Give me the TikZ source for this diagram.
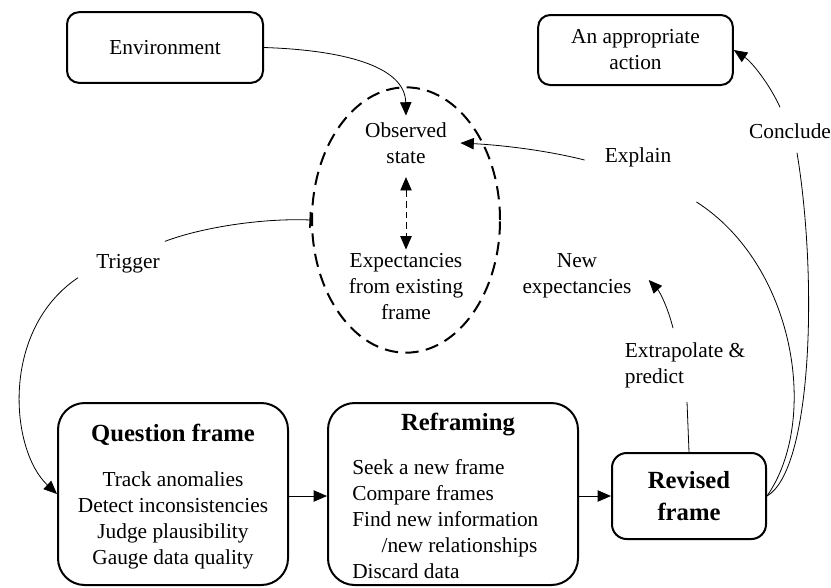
\documentclass[tikz,border=0pt]{standalone}
\usepackage{fontspec}
\setmainfont{Liberation Serif}
\usetikzlibrary{arrows.meta,shapes.geometric,calc}

\tikzset{
  box/.style={draw, line width=1.5pt, rounded corners=9pt},
  bigbox/.style={box, rounded corners=20pt, minimum width=172.5pt, minimum height=136.5pt},
  lbl/.style={align=center, inner sep=3pt},
  ttl/.style={font=\fontsize{18.5}{24}\selectfont\bfseries},
  conn/.style={line width=0.6pt},
  arr/.style={conn, -{Triangle[length=10pt,width=8.5pt]}},
}

\begin{document}
\begin{tikzpicture}[x=0.75pt, y=-0.75pt, font=\fontsize{16}{19.5}\selectfont]
  \useasboundingbox (0,0) rectangle (831,587);

  % top boxes
  \node[box, minimum width=147pt, minimum height=53pt] (env) at (165,47.5) {Environment};
  \node[box, lbl, minimum width=146pt, minimum height=52.5pt] (act) at (635.5,50) {An appropriate\\action};

  % current frame
  \node[draw, ellipse, line width=1.5pt, dash pattern=on 10pt off 5.5pt,
        minimum width=141pt, minimum height=199pt] (frame) at (406,220) {};
  \node[lbl, inner xsep=10pt, inner ysep=5pt] (obs) at (406,143) {Observed\\state};
  \node[lbl] (expc) at (406,287) {Expectancies\\from existing\\frame};
  \draw[conn, dash pattern=on 5pt off 3pt, shorten <=5pt,
        {Triangle[length=10pt,width=8.5pt]}-{Triangle[length=10pt,width=8.5pt]}] (obs) -- (expc);

  % bottom boxes
  \node[bigbox] (qf) at (173,494) {};
  \node[ttl] (qft) at (173,435) {Question frame};
  \node[lbl] (qfb) at (173,520) {Track anomalies\\Detect inconsistencies\\Judge plausibility\\Gauge data quality};

  \node[bigbox, minimum width=187.5pt] (ref) at (453,494) {};
  \node[ttl] (reft) at (458,425) {Reframing};
  \node[lbl, align=left, anchor=west] (refb) at (348,519)
    {Seek a new frame\\Compare frames\\Find new information\\\hspace*{22pt}/new relationships\\Discard data};

  \node[box, ttl, align=center, rounded corners=11pt, minimum width=115.5pt, minimum height=64.5pt] (rev) at (689,496) {Revised\\frame};

  % labels
  \node[lbl] (trig) at (128,264) {Trigger};
  \node[lbl] (expl) at (638,157) {Explain};
  \node[lbl] (concl) at (790,131) {Conclude};
  \node[lbl] (newexp) at (577,276) {New\\expectancies};
  \node[lbl, align=left] (extr) at (685,365) {Extrapolate \&\\predict};

  % connectors
  \draw[arr] (env.east) .. controls (340,50) and (405,65) .. (obs.north);

  \draw[conn, {Bar[width=12pt,line width=1.2pt]}-] (frame.west) .. controls (260,218) and (200,228) .. ($(trig.north east)+(1,-9)$);
  \draw[arr] ($(trig.south west)+(-14,0)$) .. controls (0,330) and (10,450) .. (qf.west);

  \draw[arr] (qf.east |- rev.west) -- (ref.west |- rev.west);
  \draw[arr] (ref.east |- rev.west) -- (rev.west);

  \draw[conn] (rev.east) .. controls (820,420) and (795,265) .. ($(expl.south east)+(21,31)$);
  \draw[arr] ($(expl.west)+(-16,3)$) .. controls (545,150) and (500,145) .. (obs.east);

  \draw[conn] (rev.east) .. controls (812,470) and (818,280) .. ($(concl.south)+(7,10)$);
  \draw[arr] ($(concl.north)+(-10,-12)$) .. controls (770,85) and (752,62) .. (act.east);

  \draw[conn] (rev.north) -- ($(extr.south)+(2,10)$);
  \draw[arr] ($(extr.north)+(-12,-10)$) .. controls (668,308) and (660,292) .. ($(newexp.east)+(13,4)$);

\end{tikzpicture}
\end{document}
